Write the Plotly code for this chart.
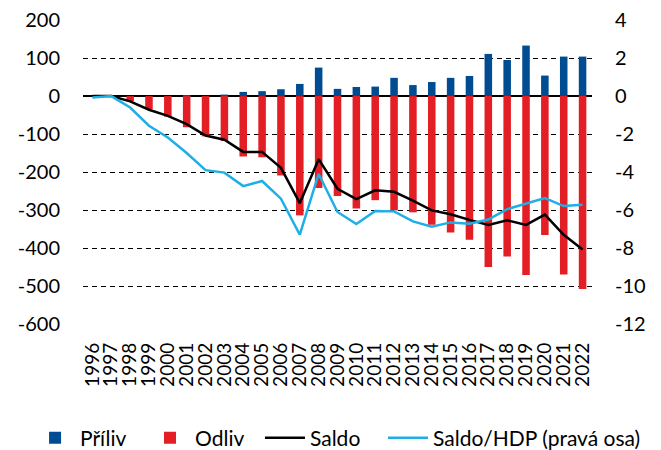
import plotly.graph_objects as go

years = [str(y) for y in range(1996, 2023)]
priliv = [0, 0, 0, 0, 0, 2, 0, 4, 11, 13, 18, 32, 75, 19, 24, 25, 48, 29, 37, 48, 53, 111, 95, 133, 54, 104, 104]
odliv = [0, 0, -14, -34, -54, -82, -106, -118, -159, -161, -209, -314, -242, -263, -296, -274, -301, -306, -339, -359, -378, -450, -422, -471, -366, -470, -508]
saldo = [0, 0, -14, -36, -52, -74, -104, -115, -147, -147, -189, -282, -166, -244, -271, -248, -252, -275, -301, -311, -326, -339, -327, -339, -312, -365, -404]
saldo_hdp = [-0.07, 0.0, -0.6, -1.56, -2.18, -3.0, -3.9, -4.03, -4.74, -4.47, -5.4, -7.3, -4.1, -6.1, -6.74, -6.05, -6.07, -6.6, -6.88, -6.65, -6.72, -6.5, -5.95, -5.68, -5.37, -5.79, -5.72]

left_ticks = list(range(-600, 201, 100))
right_ticks = list(range(-12, 5, 2))

BLUE = "#004C93"
RED = "#E31E24"
LBLUE = "#1EAFE6"
FONT = "Lato"

fig = go.Figure()
fig.add_trace(go.Bar(x=years, y=priliv, name="Příliv", marker=dict(color=BLUE, line=dict(width=0)),
                     width=0.4, legend="legend"))
fig.add_trace(go.Bar(x=years, y=odliv, name="Odliv", marker=dict(color=RED, line=dict(width=0)),
                     width=0.4, legend="legend2"))
fig.add_trace(go.Scatter(x=years, y=saldo, name="Saldo", mode="lines",
                         line=dict(color="black", width=2.5), legend="legend3"))
fig.add_trace(go.Scatter(x=years, y=saldo_hdp, name="Saldo/HDP (pravá osa)", mode="lines",
                         line=dict(color=LBLUE, width=2.5), yaxis="y2", legend="legend4"))


def leg(x):
    return dict(orientation="h", x=x, xanchor="left", y=-0.375, yanchor="middle",
                font=dict(size=21), itemwidth=40, bgcolor="rgba(0,0,0,0)")


fig.update_layout(
    width=653, height=442,
    margin=dict(l=75, r=69, t=12, b=126, autoexpand=False),
    paper_bgcolor="white", plot_bgcolor="white",
    barmode="relative",
    font=dict(family=FONT, size=20, color="black"),
    showlegend=True,
    legend=leg(-0.104),
    legend2=leg(0.1218),
    legend3=leg(0.3477),
    legend4=leg(0.5894),
    xaxis=dict(type="category", tickangle=-90, showgrid=False, showline=False, ticks="",
               tickmode="array", tickvals=years, ticktext=years,
               tickfont=dict(size=19), range=[-0.5, 26.5], ticklabelstandoff=14,
               automargin=False),
    yaxis=dict(range=[-600, 200.3], tickvals=left_ticks, ticktext=[str(v) for v in left_ticks],
               showgrid=True, gridcolor="black",
               gridwidth=1, griddash="5px,4px", zeroline=True, zerolinecolor="black",
               zerolinewidth=1.5, showline=False, ticks="", ticklabelstandoff=22,
               ticklabeloverflow="allow",
               tickfont=dict(size=20), automargin=False),
    yaxis2=dict(range=[-12, 4.006], tickvals=right_ticks, ticktext=[str(v) for v in right_ticks],
                overlaying="y", side="right",
                showgrid=False, zeroline=False, showline=False, ticks="",
                ticklabelstandoff=22, ticklabeloverflow="allow",
                tickfont=dict(size=20), automargin=False),
)

fig.write_html("out.html")
